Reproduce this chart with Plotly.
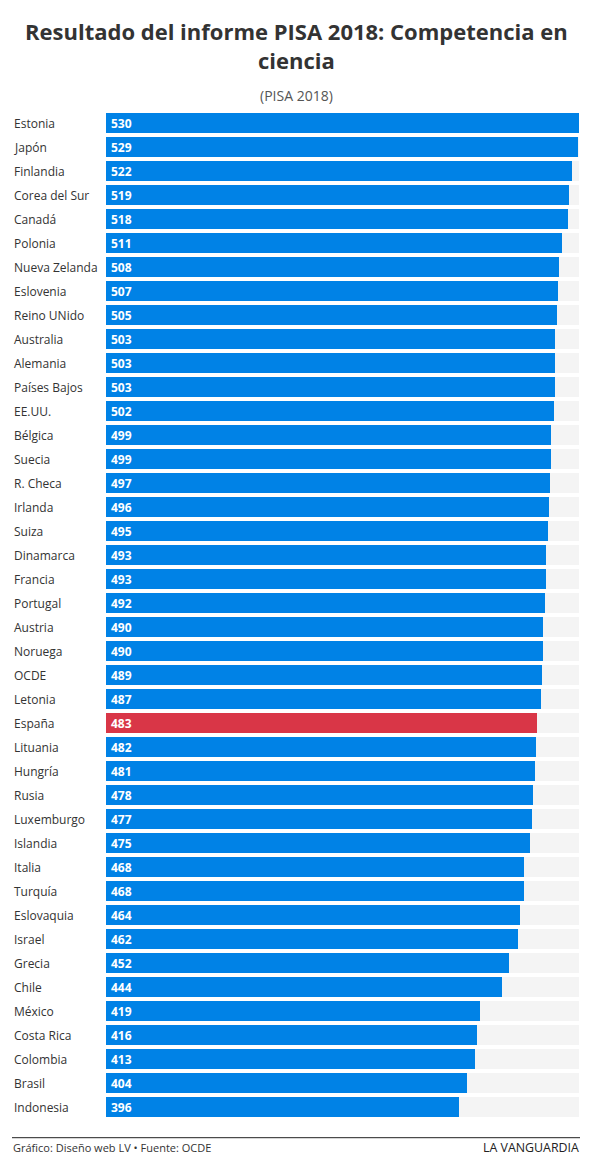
import plotly.graph_objects as go

paises = ["Estonia", "Japón", "Finlandia", "Corea del Sur", "Canadá", "Polonia",
          "Nueva Zelanda", "Eslovenia", "Reino UNido", "Australia", "Alemania",
          "Países Bajos", "EE.UU.", "Bélgica", "Suecia", "R. Checa", "Irlanda",
          "Suiza", "Dinamarca", "Francia", "Portugal", "Austria", "Noruega", "OCDE",
          "Letonia", "España", "Lituania", "Hungría", "Rusia", "Luxemburgo",
          "Islandia", "Italia", "Turquía", "Eslovaquia", "Israel", "Grecia", "Chile",
          "México", "Costa Rica", "Colombia", "Brasil", "Indonesia"]
puntos = [530, 529, 522, 519, 518, 511, 508, 507, 505, 503, 503, 503, 502, 499,
          499, 497, 496, 495, 493, 493, 492, 490, 490, 489, 487, 483, 482, 481,
          478, 477, 475, 468, 468, 464, 462, 452, 444, 419, 416, 413, 404, 396]
destacado = "España"

AZUL = "#0082e6"
ROJO = "#d93647"
FONDO = "#f4f4f4"
FUENTE = "Open Sans"

# la página añade 8px de margen al cuerpo, así que la figura va 8px corrida
W, H = 602, 1161
L, R, T, B = 98, 31, 102.7, 50
PW = W - L - R
PH = H - T - B


def px_x(x):
    return (x - L) / PW


def px_y(y):
    return 1 + (T - y) / PH


maximo = max(puntos)
colores = [ROJO if p == destacado else AZUL for p in paises]

fig = go.Figure()

# pista gris hasta el máximo
fig.add_trace(go.Bar(
    y=paises, x=[maximo] * len(paises), orientation="h",
    marker=dict(color=FONDO, line=dict(width=0)),
    hoverinfo="skip", showlegend=False, width=0.83,
))

fig.add_trace(go.Bar(
    y=paises, x=puntos, orientation="h",
    marker=dict(color=colores, line=dict(width=0)),
    showlegend=False, width=0.83,
))

for p, v in zip(paises, puntos):
    # nombre del país a la izquierda
    fig.add_annotation(
        x=px_x(4), xref="paper", y=p, yref="y",
        text=p, showarrow=False, xanchor="left",
        font=dict(family=FUENTE, size=12, color="#333333"),
    )
    # valor dentro de la barra
    fig.add_annotation(
        x=0, xref="x", y=p, yref="y", xshift=3,
        text=f"<b>{v}</b>", showarrow=False, xanchor="left",
        font=dict(family=FUENTE, size=12, color="white"),
    )

fig.update_layout(
    width=W, height=H,
    margin=dict(l=L, r=R, t=T, b=B),
    barmode="overlay", bargap=0,
    paper_bgcolor="white", plot_bgcolor="white",
    font=dict(family=FUENTE),
    xaxis=dict(range=[0, maximo], visible=False, fixedrange=True),
    yaxis=dict(autorange="reversed", showticklabels=False, showgrid=False,
               zeroline=False, fixedrange=True),
    shapes=[dict(type="line", xref="paper", yref="paper",
                 x0=px_x(4), x1=px_x(572), y0=px_y(1129.7), y1=px_y(1129.7),
                 line=dict(color="#222222", width=1))],
)

fig.add_annotation(
    text="<b>Resultado del informe PISA 2018: Competencia en<br>ciencia</b>",
    xref="paper", yref="paper", x=px_x(288), y=px_y(37.5),
    xanchor="center", yanchor="middle", showarrow=False,
    font=dict(family=FUENTE, size=22, color="#333333"),
)
fig.add_annotation(
    text="(PISA 2018)", xref="paper", yref="paper", x=px_x(288.5), y=px_y(87),
    xanchor="center", yanchor="middle", showarrow=False,
    font=dict(family=FUENTE, size=14, color="#555555"),
)
fig.add_annotation(
    text="Gráfico: Diseño web LV • Fuente: OCDE", xref="paper", yref="paper",
    x=px_x(3), y=px_y(1140), xanchor="left", yanchor="middle", showarrow=False,
    font=dict(family=FUENTE, size=11, color="#333333"),
)
fig.add_annotation(
    text="LA VANGUARDIA", xref="paper", yref="paper",
    x=px_x(573), y=px_y(1140), xanchor="right", yanchor="middle", showarrow=False,
    font=dict(family=FUENTE, size=12.4, color="#222222"),
)

fig.write_html("out.html")
